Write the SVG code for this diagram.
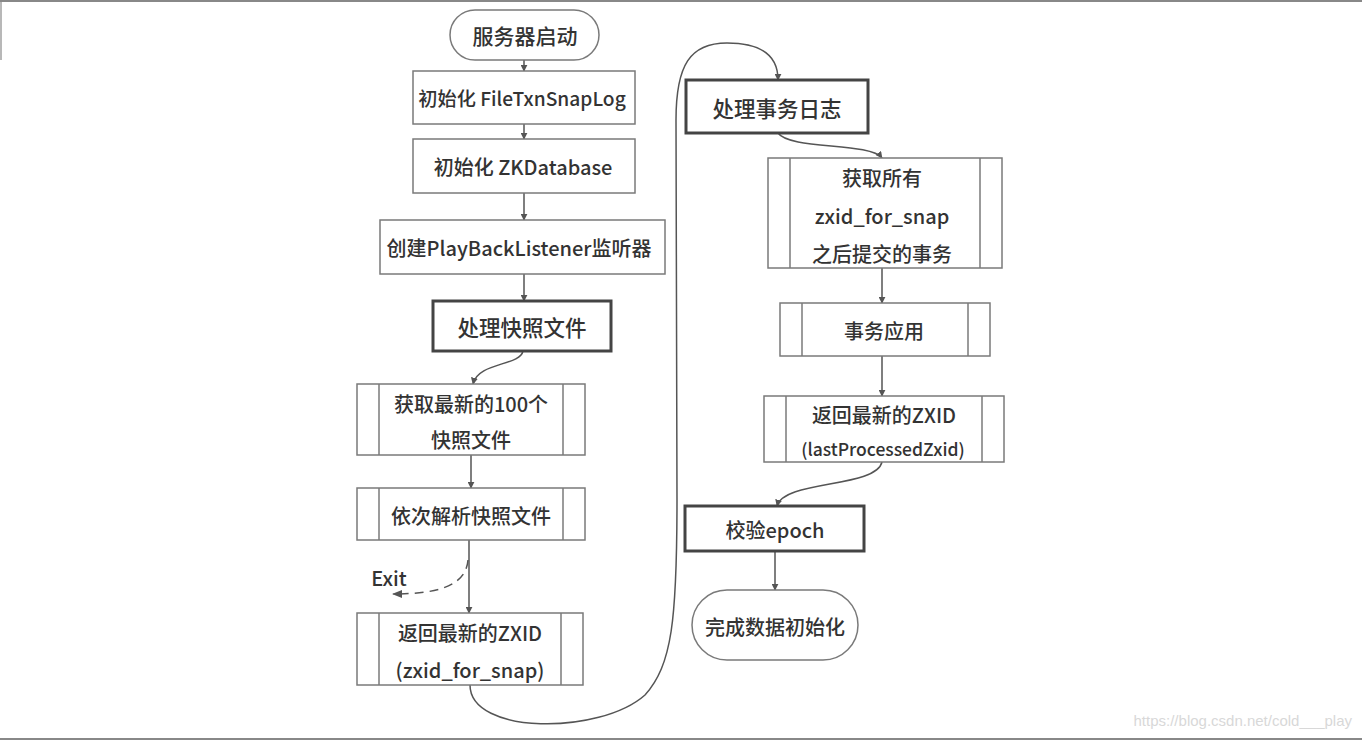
<svg xmlns="http://www.w3.org/2000/svg" width="1362" height="744" viewBox="0 0 1362 744">
<style>
.box{fill:#fff;stroke:#7a7a7a;stroke-width:1.5}
.bold{fill:#fff;stroke:#444;stroke-width:3}
.inner{stroke:#7a7a7a;stroke-width:1.5}
.t{font-family:"Noto Sans CJK SC","Open Sans",sans-serif;font-size:20px;font-weight:500;fill:#333;text-anchor:middle;dominant-baseline:central}
.c{fill:none;stroke:#555;stroke-width:1.5}
.frame{stroke:#888;stroke-width:2}
</style>
<defs>
<marker id="ar" viewBox="0 0 10 10" refX="9" refY="5" markerWidth="7" markerHeight="7" orient="auto" markerUnits="userSpaceOnUse">
<path d="M0,0 L10,5 L0,10 z" fill="#555"/>
</marker>
<marker id="ar2" viewBox="0 0 10 10" refX="9" refY="5" markerWidth="10" markerHeight="10" orient="auto" markerUnits="userSpaceOnUse">
<path d="M0,1 L10,5 L0,9 z" fill="#555"/>
</marker>
</defs>
<rect width="1362" height="744" fill="#fff"/>
<line class="frame" x1="0" y1="1" x2="1362" y2="1"/>
<line class="frame" x1="0" y1="739" x2="1362" y2="739"/>
<line class="frame" x1="1" y1="0" x2="1" y2="60" stroke-opacity="0.6"/>

<g id="connectors">
<line class="c" x1="524" y1="60" x2="524" y2="71" marker-end="url(#ar)"/>
<line class="c" x1="524" y1="124" x2="524" y2="139" marker-end="url(#ar)"/>
<line class="c" x1="524" y1="193" x2="524" y2="220" marker-end="url(#ar)"/>
<line class="c" x1="524" y1="274" x2="524" y2="301" marker-end="url(#ar)"/>
<path class="c" d="M523,351 C520,366 478,362 473,384" marker-end="url(#ar)"/>
<line class="c" x1="471" y1="455" x2="471" y2="488" marker-end="url(#ar)"/>
<line class="c" x1="469" y1="540" x2="469" y2="613" marker-end="url(#ar)"/>
<path class="c" d="M468,560 C466,585 440,594 393,594" stroke-dasharray="9,6" marker-end="url(#ar2)"/>
<path class="c" d="M470,685 C470,735 600,735 645,695 C672,665 677,620 677,500 L676,120 C676,65 690,43 727,43 C760,43 778,55 778,80" marker-end="url(#ar)"/>
<path class="c" d="M778,133 C790,150 870,142 882,158" marker-end="url(#ar)"/>
<line class="c" x1="882" y1="268" x2="882" y2="303" marker-end="url(#ar)"/>
<line class="c" x1="882" y1="356" x2="882" y2="396" marker-end="url(#ar)"/>
<path class="c" d="M882,462 C876,488 784,480 777,506" marker-end="url(#ar)"/>
<line class="c" x1="775" y1="551" x2="775" y2="590" marker-end="url(#ar)"/>
</g>

<g id="n_start">
<rect class="box" x="450" y="10" width="149" height="50" rx="25"/>
<text class="t" x="525" y="35" style="font-size:21px">服务器启动</text>
</g>
<g id="n_init_log">
<rect class="box" x="413" y="71" width="222" height="53"/>
<text class="t" x="522" y="98" style="font-size:19.2px">初始化 FileTxnSnapLog</text>
</g>
<g id="n_init_db">
<rect class="box" x="413" y="139" width="222" height="54"/>
<text class="t" x="523" y="166">初始化 ZKDatabase</text>
</g>
<g id="n_listener">
<rect class="box" x="380" y="220" width="285" height="54"/>
<text class="t" x="519" y="247">创建PlayBackListener监听器</text>
</g>
<g id="n_snap">
<rect class="bold" x="433" y="301" width="178" height="50"/>
<text class="t" x="522" y="326" style="font-size:21.5px">处理快照文件</text>
</g>
<g id="n_get100">
<rect class="box" x="357" y="384" width="228" height="71"/>
<line class="inner" x1="379" y1="384" x2="379" y2="455"/>
<line class="inner" x1="563" y1="384" x2="563" y2="455"/>
<text class="t" x="471" y="403">获取最新的100个</text>
<text class="t" x="471" y="439">快照文件</text>
</g>
<g id="n_parse">
<rect class="box" x="357" y="488" width="228" height="52"/>
<line class="inner" x1="379" y1="488" x2="379" y2="540"/>
<line class="inner" x1="563" y1="488" x2="563" y2="540"/>
<text class="t" x="471" y="515">依次解析快照文件</text>
</g>
<g id="n_exit">
<text class="t" x="389" y="577">Exit</text>
</g>
<g id="n_zxid_snap">
<rect class="box" x="357" y="613" width="226" height="72"/>
<line class="inner" x1="379" y1="613" x2="379" y2="685"/>
<line class="inner" x1="561" y1="613" x2="561" y2="685"/>
<text class="t" x="470" y="632">返回最新的ZXID</text>
<text class="t" x="470" y="669">(zxid_for_snap)</text>
</g>
<g id="n_txlog">
<rect class="bold" x="686" y="80" width="182" height="53"/>
<text class="t" x="777" y="107" style="font-size:21.5px">处理事务日志</text>
</g>
<g id="n_getall">
<rect class="box" x="768" y="158" width="234" height="110"/>
<line class="inner" x1="790" y1="158" x2="790" y2="268"/>
<line class="inner" x1="980" y1="158" x2="980" y2="268"/>
<text class="t" x="882" y="177">获取所有</text>
<text class="t" x="882" y="215">zxid_for_snap</text>
<text class="t" x="882" y="253">之后提交的事务</text>
</g>
<g id="n_apply">
<rect class="box" x="780" y="303" width="210" height="53"/>
<line class="inner" x1="802" y1="303" x2="802" y2="356"/>
<line class="inner" x1="968" y1="303" x2="968" y2="356"/>
<text class="t" x="884" y="330">事务应用</text>
</g>
<g id="n_zxid_last">
<rect class="box" x="764" y="396" width="240" height="66"/>
<line class="inner" x1="786" y1="396" x2="786" y2="462"/>
<line class="inner" x1="982" y1="396" x2="982" y2="462"/>
<text class="t" x="884" y="414">返回最新的ZXID</text>
<text class="t" x="883" y="448" style="font-size:17.5px">(lastProcessedZxid)</text>
</g>
<g id="n_epoch">
<rect class="bold" x="685" y="506" width="179" height="45"/>
<text class="t" x="775" y="529">校验epoch</text>
</g>
<g id="n_end">
<rect class="box" x="692" y="590" width="166" height="70" rx="35"/>
<text class="t" x="775" y="626">完成数据初始化</text>
</g>
<text x="1352" y="726" font-family="Liberation Sans, Arial, sans-serif" font-size="15" fill="#d8d8d8" text-anchor="end">https://blog.csdn.net/cold___play</text>
</svg>
